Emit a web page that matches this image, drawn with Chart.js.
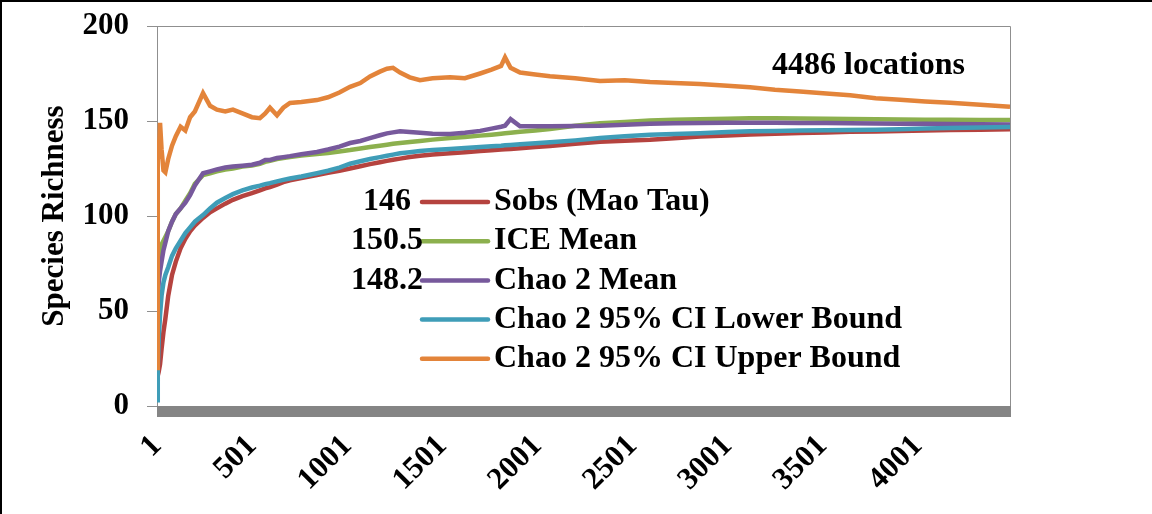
<!DOCTYPE html>
<html>
<head>
<meta charset="utf-8">
<title>Species Richness</title>
<script src="https://cdn.jsdelivr.net/npm/chart.js@4.4.1/dist/chart.umd.min.js"></script>
<style>
  html, body { margin: 0; padding: 0; background: #fff; }
  canvas { display: block; }
</style>
</head>
<body>
<canvas id="chart" width="1152" height="514"></canvas>
<script>
// number of locations sampled (x values)
var locations = [1, 5, 10, 17, 25, 35, 45, 60, 80, 100, 125, 150, 175, 200, 243, 280, 316, 360, 400, 450,
    500, 542, 570, 595, 632, 665, 700, 760, 842, 900, 960, 1016, 1070, 1121, 1173, 1210, 1242, 1279, 1330, 1384,
    1450, 1542, 1620, 1700, 1760, 1810, 1831, 1860, 1910, 1990, 2067, 2200, 2330, 2460, 2593, 2720, 2856, 3000,
    3119, 3250, 3382, 3520, 3645, 3780, 3908, 4040, 4171, 4330, 4486];

var sobs = [14, 16, 18, 22, 30, 39, 46, 58, 69, 76, 83, 88, 92, 95, 99, 102, 104, 106.5, 108.5, 110.5,
    112, 113.5, 114.5, 115.2, 116.5, 117.8, 118.8, 120, 121.6, 122.7, 123.8, 125, 126.2, 127.3, 128.3, 129, 129.6, 130.2, 131, 131.7,
    132.4, 133, 133.6, 134.2, 134.6, 135, 135.1, 135.3, 135.7, 136.3, 136.8, 138, 139.1, 139.6, 140.1, 140.9, 141.8, 142.4,
    142.9, 143.3, 143.7, 144, 144.3, 144.5, 144.8, 145, 145.2, 145.4, 145.6];

var iceMean = [25, 70, 78, 82, 85, 87, 89, 92, 97, 101, 104, 108, 112, 117, 121.5, 122.5, 123.5, 124.5, 125, 126,
    126.5, 127.5, 128.5, 129, 130, 130.5, 131, 131.8, 132.6, 133.2, 134, 134.7, 135.5, 136.3, 137, 137.5, 138, 138.4, 139, 139.5,
    140.2, 141, 141.6, 142.3, 142.8, 143.3, 143.5, 143.8, 144.3, 145, 145.8, 147.5, 148.8, 149.5, 150.2, 150.6, 150.9, 151.2,
    151.4, 151.4, 151.3, 151.2, 151, 150.9, 150.8, 150.7, 150.6, 150.5, 150.5];

var chaoMean = [22, 55, 65, 71, 76, 82, 86, 92, 97, 101, 104, 107, 111, 116, 122.5, 123.5, 124.5, 125.5, 126, 126.5,
    127, 128, 129.5, 129.5, 130.5, 131, 131.5, 132.5, 133.7, 135, 136.5, 138.4, 139.5, 141, 142.5, 143.5, 144, 144.6, 144.2, 143.8,
    143.3, 143.2, 143.8, 144.8, 146, 147, 147.5, 151, 147.2, 147.2, 147.3, 147.4, 147.5, 148, 148.5, 148.8, 149, 149.1,
    149.1, 149.1, 149, 148.9, 148.8, 148.7, 148.6, 148.5, 148.4, 148.3, 148.2];

var chaoLower = [3, 20, 35, 48, 58, 65, 69, 73, 79, 83, 87, 91, 94, 97, 100.5, 104, 107, 109.5, 111.5, 113.5,
    115, 116, 116.8, 117.3, 118.2, 119, 119.7, 120.8, 122.5, 123.8, 125.5, 127.5, 128.8, 130, 131, 131.7, 132.3, 133, 133.6, 134.2,
    134.8, 135.3, 135.8, 136.3, 136.7, 137, 137.2, 137.4, 137.8, 138.3, 138.8, 139.8, 141, 142, 142.7, 143.1, 143.6, 144.2,
    144.6, 144.8, 145, 145.1, 145.2, 145.4, 145.7, 146, 146.3, 146.6, 146.8];

var chaoUpper = [20, 140, 130, 149, 135, 124, 123, 130, 137, 142, 147, 145, 152, 155, 164.7, 158, 156, 155, 156, 154,
    152, 151.5, 154, 157, 153, 157, 159.5, 160, 161, 162.5, 165, 168, 170, 173.5, 176, 177.5, 178, 175.5, 173, 171.5,
    172.5, 173, 172.5, 175, 177, 179, 183.5, 178, 175.5, 174.5, 173.5, 172.5, 171, 171.5, 170.5, 170, 169.5, 168.5,
    167.8, 166.5, 165.5, 164.5, 163.5, 162, 161.2, 160.3, 159.6, 158.5, 157.5];

var seriesNames = ["Sobs (Mao Tau)", "ICE Mean", "Chao 2 Mean", "Chao 2 95% CI Lower Bound", "Chao 2 95% CI Upper Bound"];
var finalValues = ["146", "150.5", "148.2", "", ""];
var seriesColors = ["#B5433F", "#8CB04E", "#77599C", "#3F9DB8", "#E3843A"];
var xTickValues = [1, 501, 1001, 1501, 2001, 2501, 3001, 3501, 4001];
var noteText = "4486 locations";

var FONT = "'Liberation Serif', 'Times New Roman', serif";

function points(ys) {
    var out = [];
    for (var i = 0; i < locations.length; i++) {
        out.push({x: locations[i], y: ys[i]});
    }
    return out;
}

var allSeries = [sobs, iceMean, chaoMean, chaoLower, chaoUpper];
var datasets = [];
for (var i = 0; i < allSeries.length; i++) {
    datasets.push({
        label: seriesNames[i],
        data: points(allSeries[i]),
        borderColor: seriesColors[i],
        borderWidth: 4.5,
        pointRadius: 0,
        tension: 0,
        fill: false,
        order: allSeries.length - i
    });
}

// black frame lines, plot box, gray floor
var framePlugin = {
    id: 'frame',
    beforeDraw: function (chart) {
        var ctx = chart.ctx;
        ctx.save();
        ctx.fillStyle = '#fff';
        ctx.fillRect(0, 0, chart.width, chart.height);
        ctx.fillStyle = '#000';
        ctx.fillRect(0, 0, chart.width, 2);
        ctx.fillRect(0, 0, 2, chart.height);
        ctx.restore();
    },
    beforeDatasetsDraw: function (chart) {
        var a = chart.chartArea, ctx = chart.ctx;
        ctx.save();
        ctx.strokeStyle = '#8f8f8f';
        ctx.lineWidth = 1;
        ctx.beginPath();
        ctx.moveTo(a.left, a.top + 0.5);
        ctx.lineTo(a.right + 0.5, a.top + 0.5);
        ctx.lineTo(a.right + 0.5, a.bottom);
        ctx.stroke();
        ctx.fillStyle = '#858585';
        ctx.fillRect(a.left, a.bottom, a.right - a.left + 1, 11);
        ctx.restore();
    }
};

// legend inside the plot with final values, and the note
var legendPlugin = {
    id: 'innerLegend',
    afterDraw: function (chart) {
        var ctx = chart.ctx;
        ctx.save();
        ctx.font = 'bold 32px ' + FONT;
        ctx.textBaseline = 'middle';
        var y0 = 202, step = 39.2;
        for (var i = 0; i < seriesNames.length; i++) {
            var y = y0 + i * step;
            ctx.strokeStyle = seriesColors[i];
            ctx.lineWidth = 4.5;
            ctx.lineCap = 'round';
            ctx.beginPath();
            ctx.moveTo(422, y);
            ctx.lineTo(488, y);
            ctx.stroke();
            ctx.fillStyle = '#000';
            ctx.textAlign = 'left';
            ctx.fillText(seriesNames[i], 494, y);
            if (finalValues[i]) {
                ctx.textAlign = 'center';
                ctx.fillText(finalValues[i], 387, y);
            }
        }
        ctx.textAlign = 'left';
        ctx.fillText(noteText, 772, 66);
        ctx.restore();
    }
};

new Chart(document.getElementById('chart'), {
    type: 'line',
    data: {datasets: datasets},
    options: {
        responsive: false,
        animation: false,
        devicePixelRatio: 1,
        layout: {padding: {top: 26, right: 142, left: 0, bottom: 0}},
        plugins: {legend: {display: false}, tooltip: {enabled: false}},
        scales: {
            x: {
                type: 'linear',
                min: 1,
                max: 4486,
                afterBuildTicks: function (scale) {
                    scale.ticks = xTickValues.map(function (v) { return {value: v}; });
                },
                afterFit: function (scale) {
                    scale.height = 108;
                    scale.paddingLeft = 0;
                    scale.paddingRight = 0;
                },
                grid: {display: false, drawTicks: false},
                border: {display: false},
                ticks: {
                    autoSkip: false,
                    maxRotation: 45,
                    minRotation: 45,
                    padding: 22,
                    color: '#000',
                    font: {family: FONT, size: 31, weight: 'bold'},
                    callback: function (v) { return String(v); }
                }
            },
            y: {
                min: 0,
                max: 200,
                afterFit: function (scale) {
                    scale.width = 157;
                    scale.paddingTop = 0;
                    scale.paddingBottom = 0;
                },
                grid: {drawOnChartArea: false, tickLength: 10, color: '#8f8f8f'},
                border: {color: '#8f8f8f'},
                ticks: {
                    stepSize: 50,
                    padding: 18,
                    color: '#000',
                    font: {family: FONT, size: 31, weight: 'bold'}
                },
                title: {
                    display: true,
                    text: 'Species Richness',
                    color: '#000',
                    padding: {top: 36, bottom: 0},
                    font: {family: FONT, size: 31, weight: 'bold'}
                }
            }
        }
    },
    plugins: [framePlugin, legendPlugin]
});
</script>
</body>
</html>
